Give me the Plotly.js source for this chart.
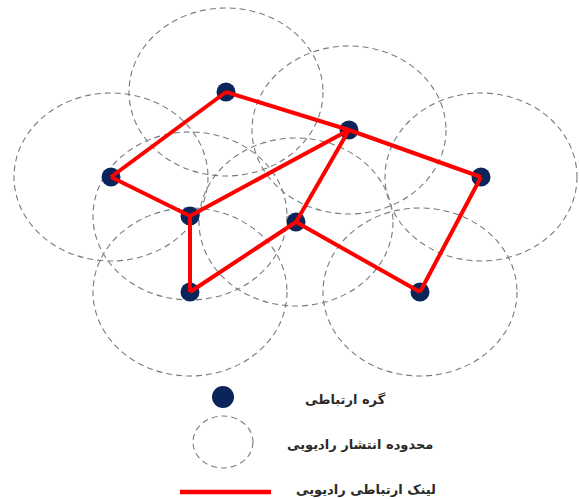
<!DOCTYPE html>
<html>
<head>
<meta charset="utf-8">
<script src="https://cdn.plot.ly/plotly-3.0.1.min.js"></script>
<style>html,body{margin:0;padding:0;background:#fff;}#chart{width:579px;height:499px;}</style>
</head>
<body>
<div id="chart"></div>
<script>
// Node positions (communication nodes)
const nodeX = [226, 349, 111, 481, 190, 296, 190, 420];
const nodeY = [92, 130, 177, 177, 216, 222, 292, 292];
// Radio range of each node (ellipse half-widths as drawn)
const rangeRx = [97, 97, 97, 96, 97, 97, 97, 97];
const rangeRy = [84, 84, 84, 84, 84, 84, 84, 84];
// Radio links (pairs of node indices)
const linkFrom = [0, 0, 1, 3, 2, 4, 4, 6, 5, 5];
const linkTo   = [1, 2, 3, 7, 4, 1, 6, 5, 1, 7];
// Legend
const legendLabels = ['گره ارتباطی', 'محدوده انتشار رادیویی', 'لینک ارتباطی رادیویی'];
const legendSymbolX = 223;
const legendY = [397, 442, 492];
const legendTextX = [345, 360, 366];
const legendTextY = [399, 444, 489];
const legendLineX = [180, 271];
const legendRangeRx = 30, legendRangeRy = 26;

const NAVY = '#0b2459';
const RED = '#ff0000';
const GRAY = '#7a7a7a';

const shapes = nodeX.map((x, i) => ({
  type: 'circle', xref: 'x', yref: 'y', layer: 'below',
  x0: x - rangeRx[i], x1: x + rangeRx[i],
  y0: nodeY[i] - rangeRy[i], y1: nodeY[i] + rangeRy[i],
  line: {color: GRAY, width: 1.1, dash: '6px,4px'}, fillcolor: 'rgba(0,0,0,0)'
}));
shapes.push({
  type: 'circle', xref: 'x', yref: 'y', layer: 'below',
  x0: legendSymbolX - legendRangeRx, x1: legendSymbolX + legendRangeRx,
  y0: legendY[1] - legendRangeRy, y1: legendY[1] + legendRangeRy,
  line: {color: GRAY, width: 1.1, dash: '6px,4px'}, fillcolor: 'rgba(0,0,0,0)'
});

const lx = [], ly = [];
linkFrom.forEach((a, k) => {
  const b = linkTo[k];
  lx.push(nodeX[a], nodeX[b], null);
  ly.push(nodeY[a], nodeY[b], null);
});

const traces = [
  {x: nodeX, y: nodeY, mode: 'markers', type: 'scatter', hoverinfo: 'skip',
   marker: {color: NAVY, size: 19, line: {width: 0}}},
  {x: lx, y: ly, mode: 'lines', type: 'scatter', hoverinfo: 'skip',
   line: {color: RED, width: 4}},
  {x: [legendSymbolX], y: [legendY[0]], mode: 'markers', type: 'scatter', hoverinfo: 'skip',
   marker: {color: NAVY, size: 22, line: {width: 0}}},
  {x: legendLineX, y: [legendY[2], legendY[2]], mode: 'lines', type: 'scatter', hoverinfo: 'skip',
   line: {color: RED, width: 4.5}}
];

const annotations = legendLabels.map((t, i) => ({
  x: legendTextX[i], y: legendTextY[i], xref: 'x', yref: 'y', text: '<b>' + t + '</b>',
  showarrow: false, xanchor: 'center', yanchor: 'middle',
  font: {family: 'DejaVu Sans, sans-serif', size: 13, color: '#2a2a2a'}
}));

const layout = {
  width: 579, height: 499,
  margin: {l: 0, r: 0, t: 0, b: 0},
  paper_bgcolor: '#ffffff', plot_bgcolor: '#ffffff',
  showlegend: false,
  xaxis: {range: [0, 579], visible: false, fixedrange: true},
  yaxis: {range: [499, 0], visible: false, fixedrange: true},
  shapes: shapes,
  annotations: annotations
};

Plotly.newPlot('chart', traces, layout, {displayModeBar: false, staticPlot: true});
</script>
</body>
</html>
